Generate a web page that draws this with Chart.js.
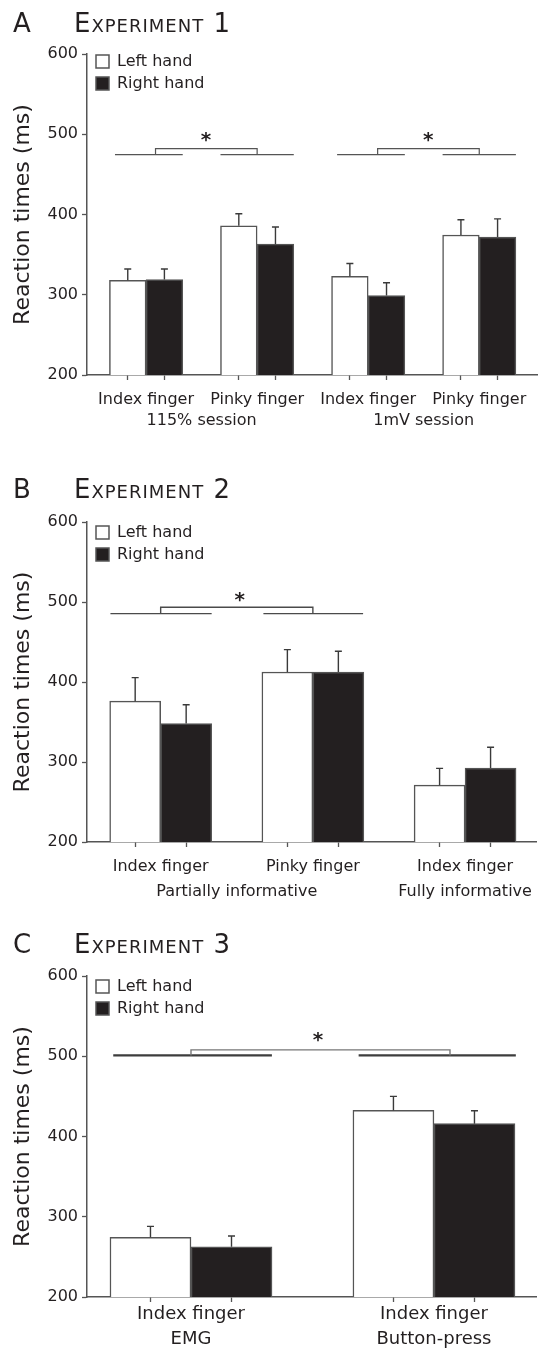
<!DOCTYPE html>
<html lang="en">
<head>
<meta charset="utf-8">
<title>Reaction times - Experiments 1 to 3</title>
<script src="https://cdn.jsdelivr.net/npm/chart.js@4.4.1/dist/chart.umd.min.js"></script>
<style>
  body { margin: 0; background: #fff; }
  #page { position: relative; width: 540px; height: 1351px; }
  .panel { position: absolute; left: 0; width: 540px; }
  .head { position: absolute; left: 13px; height: 30px; line-height: 30px; white-space: nowrap;
          font-family: "DejaVu Sans"; font-size: 26px; color: #231f20; }
  .head .letter { display: inline-block; width: 61px; }
  .head .exp { font-variant: small-caps; letter-spacing: 1px; }
</style>
<script>
// ---- data ----
const handLabels = ['Left hand', 'Right hand'];
const yTitle = 'Reaction times (ms)';

// Experiment 1
const fingersA = ['Index finger', 'Pinky finger', 'Index finger', 'Pinky finger'];
const sessionsA = ['115% session', '1mV session'];
const sessionSpansA = [[0, 1], [2, 3]];
const leftA = [318, 386, 323, 374.5];
const leftErrA = [14, 15, 16, 19];
const rightA = [319, 363, 299, 372];
const rightErrA = [13, 21.5, 16, 22.5];

// Experiment 2
const fingersB = ['Index finger', 'Pinky finger', 'Index finger'];
const cuesB = ['Partially informative', 'Fully informative'];
const cueSpansB = [[0, 1], [2, 2]];
const leftB = [376, 412.5, 271];
const leftErrB = [29.5, 28, 21];
const rightB = [348, 412.5, 292.5];
const rightErrB = [23.5, 26, 26];

// Experiment 3
const fingersC = ['Index finger', 'Index finger'];
const tasksC = ['EMG', 'Button-press'];
const taskSpansC = [[0, 0], [1, 1]];
const leftC = [274.5, 432.5];
const leftErrC = [13.5, 17.5];
const rightC = [262.5, 416];
const rightErrC = [13.5, 16];

// significance brackets (x in group units, y in ms)
const sigA = [
  { base1: [-0.28, 0.33], base2: [0.67, 1.33], arm: [0.085, 1.0], yBase: 474.5, yTop: 482, star: 0.54, yStar: 496.5 },
  { base1: [1.72, 2.33], base2: [2.67, 3.33], arm: [2.085, 3.0], yBase: 474.5, yTop: 482, star: 2.54, yStar: 496.5 }
];
const sigB = [
  { base1: [-0.33, 0.335], base2: [0.675, 1.33], arm: [0, 1.0], yBase: 485.5, yTop: 493.5, star: 0.52, yStar: 506 }
];
const sigC = [
  { base1: [-0.32, 0.333], base2: [0.69, 1.337], arm: [0, 1.066], yBase: 501, yTop: 508, star: 0.523, yStar: 523.5 }
];

Chart.defaults.font.family = '"DejaVu Sans"';
Chart.defaults.color = '#231f20';

const errorBars = {
  id: 'errorBars',
  afterDatasetsDraw(chart) {
    const ctx = chart.ctx, y = chart.scales.y;
    ctx.save();
    ctx.strokeStyle = '#3a3a3a';
    ctx.lineWidth = 1.4;
    chart.data.datasets.forEach((ds, d) => {
      chart.getDatasetMeta(d).data.forEach((bar, i) => {
        const top = y.getPixelForValue(ds.data[i].y + ds.err[i]);
        ctx.beginPath();
        ctx.moveTo(bar.x, bar.y);
        ctx.lineTo(bar.x, top);
        ctx.moveTo(bar.x - 3.5, top);
        ctx.lineTo(bar.x + 3.5, top);
        ctx.stroke();
      });
    });
    ctx.restore();
  }
};

function brackets(items, st) {
  return {
    id: 'sigBrackets',
    afterDatasetsDraw(chart) {
      const ctx = chart.ctx, x = chart.scales.x, y = chart.scales.y;
      items.forEach(b => {
        const yb = y.getPixelForValue(b.yBase), yt = y.getPixelForValue(b.yTop);
        ctx.save();
        ctx.strokeStyle = st.baseColor;
        ctx.lineWidth = st.baseWidth;
        ctx.beginPath();
        [b.base1, b.base2].forEach(s => {
          ctx.moveTo(x.getPixelForValue(s[0]), yb);
          ctx.lineTo(x.getPixelForValue(s[1]), yb);
        });
        ctx.stroke();
        ctx.strokeStyle = st.armColor;
        ctx.lineWidth = st.armWidth;
        ctx.beginPath();
        ctx.moveTo(x.getPixelForValue(b.arm[0]), yb);
        ctx.lineTo(x.getPixelForValue(b.arm[0]), yt);
        ctx.lineTo(x.getPixelForValue(b.arm[1]), yt);
        ctx.lineTo(x.getPixelForValue(b.arm[1]), yb);
        ctx.stroke();
        // star centred on its value
        ctx.font = 'bold 20px "DejaVu Sans"';
        ctx.fillStyle = '#231f20';
        ctx.textAlign = 'center';
        ctx.textBaseline = 'alphabetic';
        const m = ctx.measureText('*');
        const off = (m.actualBoundingBoxAscent - m.actualBoundingBoxDescent) / 2;
        ctx.fillText('*', x.getPixelForValue(b.star), y.getPixelForValue(b.yStar) + off);
        ctx.restore();
      });
    }
  };
}

// put the legend in the top-left corner of the plot
function legendAt(dx, dy) {
  return {
    id: 'legendAt',
    afterLayout(chart) {
      const a = chart.chartArea;
      chart.legend.left = a.left + dx;
      chart.legend.top = a.top + dy;
    }
  };
}

// x ticks: marks under each bar, labels under each group, second row under spans
function buildTicks(fingers, rows2, spans, catPct) {
  const ticks = [];
  const half = catPct / 4;
  fingers.forEach((f, i) => {
    ticks.push({ value: i - half, lbl: '', mark: true });
    ticks.push({ value: i + half, lbl: '', mark: true });
    ticks.push({ value: i, lbl: [f], mark: false });
  });
  spans.forEach((s, k) => {
    const mid = (s[0] + s[1]) / 2;
    const same = ticks.find(t => t.value === mid && !t.mark);
    if (same) same.lbl = [same.lbl[0], rows2[k]];
    else ticks.push({ value: mid, lbl: ['', rows2[k]], mark: false });
  });
  return ticks.sort((a, b) => a.value - b.value);
}

function makeChart(id, c) {
  const xTicks = buildTicks(c.fingers, c.rows2, c.spans, c.catPct);
  return new Chart(document.getElementById(id), {
    type: 'bar',
    data: {
      datasets: [
        { label: handLabels[0], data: c.left.map((v, i) => ({ x: i, y: v })), err: c.leftErr,
          backgroundColor: '#ffffff', borderColor: '#555555', borderWidth: 1.5 },
        { label: handLabels[1], data: c.right.map((v, i) => ({ x: i, y: v })), err: c.rightErr,
          backgroundColor: '#231f20', borderColor: '#555555', borderWidth: 1.5 }
      ]
    },
    options: {
      responsive: true,
      maintainAspectRatio: false,
      animation: false,
      events: [],
      barThickness: 'flex',
      categoryPercentage: c.catPct,
      barPercentage: 1.0,
      layout: { padding: { top: c.padTop, right: c.padRight, left: 0, bottom: 0 } },
      plugins: {
        tooltip: { enabled: false },
        legend: {
          position: 'chartArea',
          align: 'start',
          labels: { boxWidth: 13, boxHeight: 13, padding: 6, font: { size: 16 }, color: '#231f20' }
        }
      },
      scales: {
        x: {
          type: 'linear',
          min: c.xMin,
          max: c.xMax,
          offset: false,
          afterBuildTicks: s => { s.ticks = xTicks.map(t => Object.assign({}, t)); },
          afterFit: s => { s.height = c.xH; },
          grid: {
            drawOnChartArea: false, offset: false, drawTicks: true, tickLength: 5, tickWidth: 1.3,
            tickColor: ctx => (ctx.tick && ctx.tick.mark) ? '#555555' : 'rgba(0,0,0,0)'
          },
          border: { color: '#555555', width: 1.5 },
          ticks: {
            autoSkip: false, maxRotation: 0, minRotation: 0, padding: c.labPad,
            font: { size: c.labSize, lineHeight: c.labLine }, color: '#231f20',
            callback: (v, i, t) => t[i].lbl
          }
        },
        y: {
          min: 200,
          max: 600,
          afterFit: s => { s.width = 87; },
          grid: { drawOnChartArea: false, tickLength: 5, tickWidth: 1.3, tickColor: '#555555' },
          border: { color: '#555555', width: 1.5 },
          ticks: { stepSize: 100, padding: 4, font: { size: 16 }, color: '#231f20' },
          title: { display: true, text: yTitle, font: { size: 22 }, color: '#231f20', padding: { top: 10, bottom: 0 } }
        }
      }
    },
    plugins: [errorBars, brackets(c.sig, c.sigStyle), legendAt(3, c.legDy)]
  });
}

function drawAll() {
  makeChart('chartA', {
    fingers: fingersA, rows2: sessionsA, spans: sessionSpansA,
    left: leftA, leftErr: leftErrA, right: rightA, rightErr: rightErrA,
    catPct: 0.66, xMin: -0.532, xMax: 3.52, padTop: 54, padRight: 3, xH: 65,
    labSize: 16, labLine: 1.3125, labPad: 9.5, legDy: -6.5,
    sig: sigA, sigStyle: { baseColor: '#555', baseWidth: 1.2, armColor: '#555', armWidth: 1.2 }
  });
  makeChart('chartB', {
    fingers: fingersB, rows2: cuesB, spans: cueSpansB,
    left: leftB, leftErr: leftErrB, right: rightB, rightErr: rightErrB,
    catPct: 0.67, xMin: -0.484, xMax: 2.466, padTop: 82, padRight: 4, xH: 58,
    labSize: 16, labLine: 1.5625, labPad: 7, legDy: -3.5,
    sig: sigB, sigStyle: { baseColor: '#4a4a4a', baseWidth: 1.4, armColor: '#4a4a4a', armWidth: 1.4 }
  });
  makeChart('chartC', {
    fingers: fingersC, rows2: tasksC, spans: taskSpansC,
    left: leftC, leftErr: leftErrC, right: rightC, rightErr: rightErrC,
    catPct: 0.667, xMin: -0.428, xMax: 1.42, padTop: 76, padRight: 4, xH: 54,
    labSize: 18, labLine: 1.39, labPad: 0, legDy: -3.5,
    sig: sigC, sigStyle: { baseColor: '#3d3d3d', baseWidth: 2.2, armColor: '#777', armWidth: 1.4 }
  });
}
</script>
</head>
<body onload="drawAll()">
<div id="page">
  <div class="panel" style="top:0;height:440px"><canvas id="chartA"></canvas></div>
  <div class="panel" style="top:440px;height:460px"><canvas id="chartB"></canvas></div>
  <div class="panel" style="top:900px;height:451px"><canvas id="chartC"></canvas></div>
  <div class="head" style="top:8px"><span class="letter">A</span><span class="exp">Experiment 1</span></div>
  <div class="head" style="top:474px"><span class="letter">B</span><span class="exp">Experiment 2</span></div>
  <div class="head" style="top:929px"><span class="letter">C</span><span class="exp">Experiment 3</span></div>
</div>
</body>
</html>
